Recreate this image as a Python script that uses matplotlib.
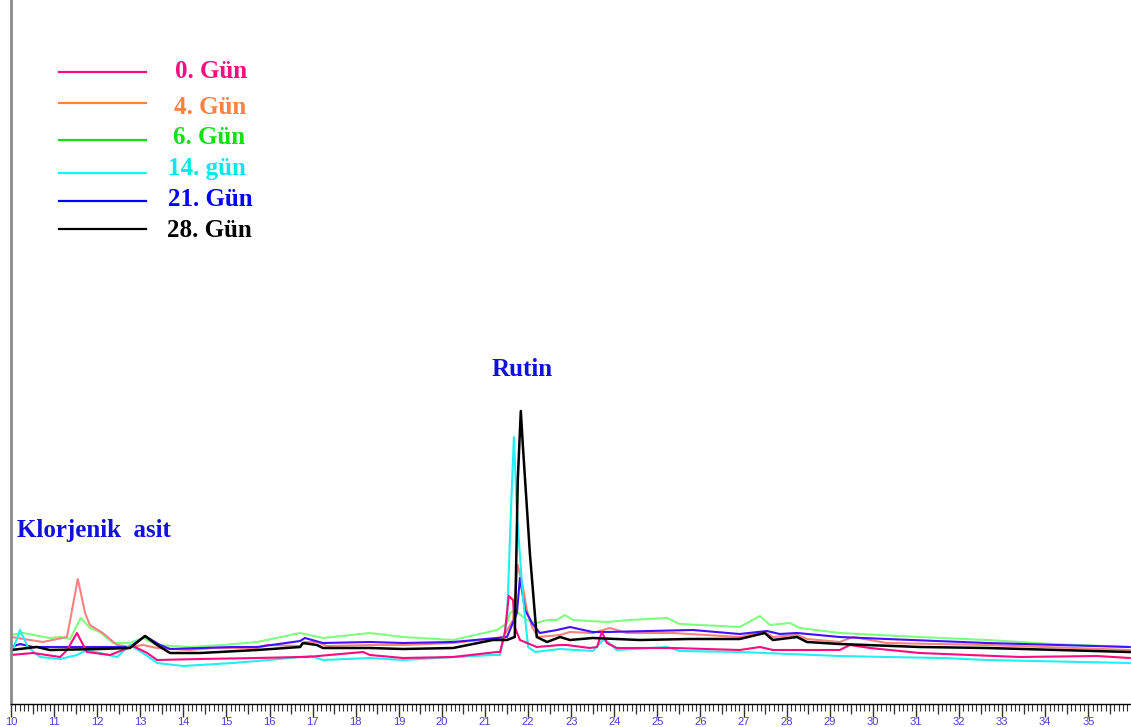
import matplotlib
matplotlib.use("Agg")
import matplotlib.pyplot as plt
from matplotlib.ticker import MultipleLocator, NullFormatter

# ---- data: retention time (min) and detector signal (arbitrary units) ----
t_0 = [10.00, 10.51, 11.14, 11.30, 11.53, 11.76, 12.30, 12.83, 13.16, 13.39, 14.39, 15.71,
       16.71, 16.87, 18.17, 18.33, 19.10, 20.26, 21.28, 21.35, 21.46, 21.55, 21.65, 21.69,
       21.81, 22.20, 22.74, 22.90, 23.43, 23.60, 23.71, 23.83, 24.06, 25.36, 26.91, 27.38,
       27.68, 29.23, 29.47, 29.93, 31.09, 33.41, 35.20, 35.96]
s_0 = [49, 51, 47, 54, 71, 52, 49, 58, 51, 44, 45, 46,
       47, 47, 52, 49, 46, 47, 52, 52, 71, 108, 104, 77,
       64, 57, 59, 59, 56, 57, 72, 61, 56, 56, 54, 57,
       54, 54, 59, 56, 51, 47, 48, 46]

t_4 = [10.00, 10.74, 11.30, 11.55, 11.72, 11.83, 12.13, 12.46, 12.76, 13.06, 13.39, 14.15,
       14.69, 15.71, 15.94, 16.71, 16.82, 17.10, 17.33, 18.33, 19.10, 20.26, 21.28, 21.42,
       21.65, 21.76, 21.88, 21.97, 22.09, 22.23, 22.74, 22.97, 23.50, 23.90, 24.29, 25.36,
       26.91, 27.49, 27.68, 28.24, 28.47, 29.23, 29.54, 30.32, 32.65, 35.96]
s_4 = [67, 62, 67, 125, 91, 79, 71, 59, 57, 59, 56, 54,
       56, 56, 59, 58, 62, 62, 58, 59, 59, 61, 66, 67,
       84, 139, 117, 94, 77, 67, 69, 72, 71, 76, 71, 71,
       67, 72, 67, 69, 65, 62, 67, 61, 59, 54]

t_6 = [10.00, 10.28, 10.90, 11.14, 11.37, 11.62, 11.83, 12.06, 12.37, 12.76, 13.06, 13.39,
       14.15, 14.92, 15.71, 16.71, 17.24, 18.33, 19.10, 20.26, 21.28, 21.51, 21.58, 21.69,
       21.97, 22.20, 22.44, 22.67, 22.85, 23.04, 23.83, 24.36, 25.22, 25.52, 26.91, 27.38,
       27.61, 28.07, 28.31, 29.23, 31.09, 32.65, 34.18, 35.96]
s_6 = [69, 71, 66, 67, 65, 86, 76, 72, 61, 61, 66, 59,
       57, 59, 62, 71, 66, 71, 67, 64, 74, 81, 91, 94,
       84, 81, 84, 84, 89, 84, 82, 84, 86, 80, 77, 88,
       79, 81, 76, 71, 67, 64, 60, 57]

t_14 = [10.00, 10.21, 10.39, 10.67, 11.14, 11.53, 11.76, 12.06, 12.46, 12.76, 13.06, 13.39,
        13.99, 15.15, 15.71, 16.71, 16.94, 17.24, 18.33, 19.10, 20.26, 21.18, 21.35, 21.51,
        21.60, 21.67, 21.74, 21.88, 22.00, 22.16, 22.74, 23.50, 23.74, 23.85, 24.06, 25.22,
        25.52, 26.91, 29.23, 30.32, 31.62, 32.65, 35.96]
s_14 = [49, 74, 57, 47, 45, 49, 54, 51, 47, 59, 51, 41,
        38, 41, 43, 47, 48, 44, 46, 44, 47, 49, 49, 84,
        191, 267, 191, 107, 57, 52, 55, 53, 64, 62, 54, 57,
        53, 52, 48, 47, 46, 44, 41]

t_21 = [10.00, 10.21, 10.51, 12.06, 12.76, 13.11, 13.46, 13.69, 15.15, 15.71, 16.71, 16.82,
        17.24, 18.33, 19.10, 20.26, 21.28, 21.51, 21.74, 21.81, 21.93, 22.09, 22.27, 22.67,
        22.97, 23.50, 23.83, 25.82, 26.91, 27.54, 27.84, 28.24, 29.23, 30.32, 32.65, 35.96]
s_21 = [57, 60, 57, 57, 57, 68, 59, 55, 57, 57, 63, 66,
        61, 62, 61, 62, 66, 67, 91, 126, 94, 81, 71, 74,
        77, 72, 72, 74, 70, 73, 70, 71, 67, 65, 61, 57]

t_28 = [10.00, 10.60, 10.90, 12.06, 12.76, 13.11, 13.39, 13.69, 14.39, 15.71, 16.71, 16.77,
        17.10, 17.24, 18.33, 19.10, 20.26, 21.18, 21.51, 21.69, 21.76, 21.83, 21.88, 22.04,
        22.20, 22.44, 22.74, 22.97, 23.50, 24.59, 25.75, 26.91, 27.49, 27.68, 28.24, 28.47,
        29.23, 31.09, 32.65, 35.96]
s_28 = [54, 57, 54, 55, 56, 68, 59, 51, 51, 54, 57, 61,
        59, 56, 56, 55, 56, 64, 64, 67, 224, 293, 257, 151,
        67, 62, 67, 64, 66, 64, 65, 65, 71, 64, 67, 62,
        60, 57, 56, 52]

labels = ["0. Gün", "4. Gün", "6. Gün", "14. gün", "21. Gün", "28. Gün"]
x_ticks = list(range(10, 36))
peak_names = ["Klorjenik  asit", "Rutin"]

# ---- styling ----
line_colors = ["#FF0A80", "#FF8080", "#80FF80", "#20F0F0", "#4010FF", "#000000"]
legend_line_colors = ["#FF0A80", "#FF8040", "#10E010", "#00FFFF", "#0000FF", "#000000"]
legend_text_colors = ["#FF0A80", "#FF8040", "#10E010", "#00E8E8", "#0000FF", "#000000"]

fig = plt.figure(figsize=(11.31, 7.27), dpi=100)
ax = fig.add_axes([11 / 1131, 23 / 727, 1120 / 1131, 704 / 727])

series = [(t_0, s_0), (t_4, s_4), (t_6, s_6), (t_14, s_14), (t_21, s_21), (t_28, s_28)]
draw_order = [2, 1, 4, 3, 0, 5]
for i in draw_order:
    t, s = series[i]
    ax.plot(t, s, color=line_colors[i], lw=1.5 if i != 5 else 1.8, solid_joinstyle="round")

ax.set_xlim(10, 35.99)
ax.set_ylim(0, 704)

for sp in ["top", "right"]:
    ax.spines[sp].set_visible(False)
ax.spines["left"].set_color("#8C8C8C")
ax.spines["left"].set_linewidth(2.0)
ax.spines["bottom"].set_color("#000000")
ax.spines["bottom"].set_linewidth(1.0)
ax.set_yticks([])

ax.set_xticks(x_ticks)
ax.set_xticklabels([str(v) for v in x_ticks], fontsize=8, color="#4B3CC8",
                   family="Liberation Sans")
ax.xaxis.set_minor_locator(MultipleLocator(0.1))
ax.tick_params(axis="x", which="major", length=9, width=1.0, color="#303030", pad=0.5)
ax.tick_params(axis="x", which="minor", length=5, width=0.8, color="#303030")

sec = ax.secondary_xaxis("bottom")
sec.set_xticks([v + 0.5 for v in x_ticks])
sec.xaxis.set_major_formatter(NullFormatter())
sec.tick_params(length=7, width=0.9, color="#303030")
sec.spines["bottom"].set_visible(False)

# legend (hand drawn, as in the original)
leg_line_y = [72, 103, 140, 173, 201, 229]
leg_text_y = [71, 108, 137, 168, 200, 230]
leg_text_x = [175, 174, 173, 168, 168, 167]
for i, lab in enumerate(labels):
    fig.add_artist(plt.Line2D([59 / 1131, 146 / 1131],
                              [1 - leg_line_y[i] / 727] * 2,
                              color=legend_line_colors[i], lw=1.6))
    fig.text(leg_text_x[i] / 1131, 1 - leg_text_y[i] / 727, lab, color=legend_text_colors[i],
             fontsize=18, fontweight="bold", family="Liberation Serif", va="center", ha="left")

# peak annotations
fig.text(17 / 1131, 1 - 531 / 727, peak_names[0], color="#1010E0", fontsize=18,
         fontweight="bold", family="Liberation Serif", va="center", ha="left")
fig.text(492 / 1131, 1 - 370 / 727, peak_names[1], color="#1010E0", fontsize=18,
         fontweight="bold", family="Liberation Serif", va="center", ha="left")

fig.savefig("out.png", dpi=100, facecolor="white")
